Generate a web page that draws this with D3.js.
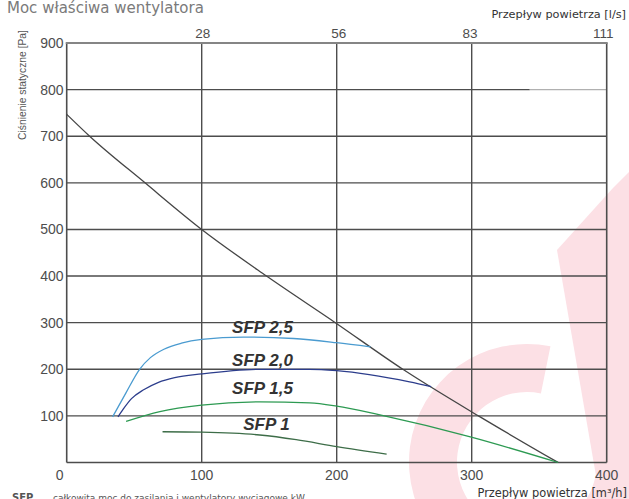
<!DOCTYPE html>
<html><head><meta charset="utf-8">
<script src="https://cdn.jsdelivr.net/npm/d3@7"></script>
<style>body{margin:0;background:#fff;overflow:hidden}</style>
</head><body>
<svg id="c" width="629" height="499"></svg>
<script>
// ---- data ----
const xTicks = [0, 100, 200, 300, 400];          // m³/h
const topTicks = [28, 56, 83, 111];              // l/s
const yTicks = [0, 100, 200, 300, 400, 500, 600, 700, 800, 900]; // Pa
const systemCurve = [[0,747],[17,700],[58,600],[100,500],[148,400],[199,300],[249,200],[305,100],[364,0]];
const sfp25 = [[34,98],[44,150],[54,200],[62,225],[72,243],[85,256],[100,264],[131,269],[168,266],[200,257],[225,248]];
const sfp20 = [[38,98],[42,115],[48,137],[57,156],[68,172],[80,182],[100,190],[143,200],[180,200],[200,197],[254,173],[270,163]];
const sfp15 = [[44,88],[69,109],[100,123],[143,130],[180,128],[200,121],[232,102],[299,55],[364,0]];
const sfp10 = [[71,66],[100,65],[143,59],[170,49],[200,34],[237,18]];
const seriesNames = ["SFP 2,5", "SFP 2,0", "SFP 1,5", "SFP 1"];

// ---- scales ----
const svg = d3.select("#c");
const sx = d3.scaleLinear().domain([0, 400]).range([66.7, 606.7]);
const sxTop = d3.scaleLinear().domain([0, 400 / 3.6]).range([66.7, 606.7]);
const sy = d3.scaleLinear().domain([0, 900]).range([462.5, 43]);

// ---- watermark ----
const wm = svg.append("g").attr("fill", "#fce0e5");
wm.append("path")
  .attr("transform", "translate(527,462)")
  .attr("d", d3.arc().innerRadius(70).outerRadius(118).startAngle(1.55).endAngle(2 * Math.PI + 0.2)());
wm.append("path").attr("d", "M557,250 L613,188 L629,172 L629,499 L600,499 Z");

// ---- grid ----
const grid = svg.append("g").attr("stroke", "#4d4d4d").attr("stroke-width", 1.4).attr("fill", "none");
yTicks.filter(v => v > 0 && v < 900).forEach(v => {
  if (v === 800) {
    grid.append("line").attr("x1", sx(0)).attr("x2", sx(343)).attr("y1", sy(v)).attr("y2", sy(v));
    grid.append("line").attr("x1", sx(343)).attr("x2", sx(400)).attr("y1", sy(v)).attr("y2", sy(v)).attr("stroke", "#b0b0b0");
  } else {
    grid.append("line").attr("x1", sx(0)).attr("x2", sx(400)).attr("y1", sy(v)).attr("y2", sy(v));
  }
});
xTicks.filter(v => v > 0 && v < 400).forEach(v => {
  grid.append("line").attr("x1", sx(v)).attr("x2", sx(v)).attr("y1", sy(0)).attr("y2", sy(900));
});
// frame
grid.append("line").attr("x1", sx(0)).attr("x2", sx(0)).attr("y1", sy(0)).attr("y2", sy(900)).attr("stroke-width", 1.6);
grid.append("line").attr("x1", sx(400)).attr("x2", sx(400)).attr("y1", sy(0)).attr("y2", sy(900)).attr("stroke-width", 1.6);
grid.append("line").attr("x1", sx(0)).attr("x2", sx(400)).attr("y1", sy(0)).attr("y2", sy(0)).attr("stroke-width", 1.6);
grid.append("line").attr("x1", sx(0) - 1).attr("x2", sx(400) + 1).attr("y1", sy(900)).attr("y2", sy(900)).attr("stroke", "#858585").attr("stroke-width", 2);

// ---- curves ----
const line = d3.line().x(d => sx(d[0])).y(d => sy(d[1])).curve(d3.curveMonotoneX);
svg.append("path").datum(systemCurve).attr("d", line).attr("fill", "none").attr("stroke", "#454545").attr("stroke-width", 1.3);
const series = [sfp25, sfp20, sfp15, sfp10];
const colors = ["#4a9bd0", "#2c3d8c", "#2d9a52", "#3d6d48"];
series.forEach((s, i) => {
  svg.append("path").datum(s).attr("d", line).attr("fill", "none").attr("stroke", colors[i]).attr("stroke-width", 1.3);
});

// series labels (anchored in data units)
const labelPos = [[145, 277], [145, 208], [145, 147], [148, 70]];
seriesNames.forEach((n, i) => {
  svg.append("text").attr("x", sx(labelPos[i][0])).attr("y", sy(labelPos[i][1]))
    .attr("text-anchor", "middle").attr("font-family", "Liberation Sans, Arial, sans-serif")
    .attr("font-size", 17).attr("font-weight", "bold").attr("font-style", "italic")
    .attr("fill", "#333").text(n);
});

// ---- axis labels ----
const tickFont = "Liberation Sans, Arial, sans-serif";
yTicks.filter(v => v > 0).forEach(v => {
  svg.append("text").attr("x", 63.5).attr("y", sy(v)).attr("dy", "0.36em")
    .attr("text-anchor", "end").attr("font-family", tickFont).attr("font-size", 14)
    .attr("fill", "#4d4d4d").text(v);
});
xTicks.forEach(v => {
  svg.append("text").attr("x", sx(v) + (v === 0 ? -7 : 0)).attr("y", 480)
    .attr("text-anchor", "middle").attr("font-family", tickFont).attr("font-size", 14)
    .attr("fill", "#4d4d4d").text(v);
});
topTicks.forEach(v => {
  svg.append("text").attr("x", sxTop(v) + (v === 111 ? -3 : 0)).attr("y", 37.5)
    .attr("text-anchor", "middle").attr("font-family", tickFont).attr("font-size", 13.5)
    .attr("fill", "#4d4d4d").text(v);
});

// titles
svg.append("text").attr("x", 7).attr("y", 12.5).attr("font-family", "DejaVu Sans, Verdana, sans-serif")
  .attr("font-size", 15).attr("fill", "#7a7a7a").text("Moc właściwa wentylatora");
svg.append("text").attr("x", 626).attr("y", 18).attr("text-anchor", "end")
  .attr("font-family", "DejaVu Sans, Verdana, sans-serif").attr("font-size", 11.3).attr("fill", "#333")
  .text("Przepływ powietrza [l/s]");
svg.append("text").attr("x", 627).attr("y", 496.5).attr("text-anchor", "end")
  .attr("font-family", "DejaVu Sans, Verdana, sans-serif").attr("font-size", 11.4).attr("fill", "#333")
  .text("Przepływ powietrza [m³/h]");
svg.append("text").attr("transform", "translate(26,85) rotate(-90)").attr("text-anchor", "middle")
  .attr("font-family", tickFont).attr("font-size", 10.3).attr("fill", "#555")
  .text("Ciśnienie statyczne [Pa]");

// footnote (partly cut off at the bottom edge, as in the reference)
svg.append("text").attr("x", 12).attr("y", 500.5).attr("font-family", "DejaVu Sans, Verdana, sans-serif")
  .attr("font-size", 10).attr("font-weight", "bold").attr("fill", "#555").text("SFP");
svg.append("text").attr("x", 53).attr("y", 500.5).attr("font-family", "DejaVu Sans, Verdana, sans-serif")
  .attr("font-size", 9).attr("fill", "#555").text("całkowita moc do zasilania i wentylatory wyciągowe kW");
</script>
</body></html>
